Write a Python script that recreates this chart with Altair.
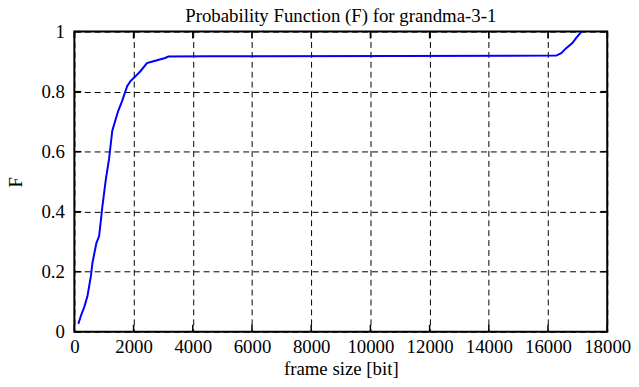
import altair as alt
import pandas as pd

frame_size = [134, 224, 334, 445, 559, 612, 746, 836, 946, 1060, 1171, 1281, 1482, 1615,
              1783, 1896, 2063, 2231, 2452, 2732, 3067, 3177, 4548, 11000, 16277,
              16445, 16612, 16823, 16946, 17134]
F = [0.026, 0.054, 0.082, 0.12, 0.186, 0.23, 0.296, 0.318, 0.417, 0.505, 0.575, 0.67, 0.736, 0.769,
     0.818, 0.835, 0.851, 0.868, 0.895, 0.903, 0.912, 0.917, 0.918, 0.919, 0.92,
     0.928, 0.945, 0.962, 0.978, 1.0]

x_ticks = [0, 2000, 4000, 6000, 8000, 10000, 12000, 14000, 16000, 18000]
y_ticks = [0, 0.2, 0.4, 0.6, 0.8, 1.0]

W, H = 538, 303
FONT = "Liberation Serif"
FS = 19

df = pd.DataFrame({"frame_size": frame_size, "F": F})
xt = pd.DataFrame({"xt": x_ticks})
yt = pd.DataFrame({"yt": y_ticks})

xscale = alt.Scale(domain=[0, 18000], nice=False)
yscale = alt.Scale(domain=[0, 1], nice=False)

common = dict(grid=True, gridDash=[6, 4], gridColor="black", gridOpacity=1, gridWidth=1,
              tickSize=0, domain=False, labelOverlap=False,
              labelFont=FONT, labelFontSize=FS, labelColor="black",
              titleFont=FONT, titleFontSize=FS, titleFontWeight="normal", titleColor="black")

line = alt.Chart(df).mark_line(color="#0000ff", strokeWidth=2, clip=True).encode(
    x=alt.X("frame_size:Q", scale=xscale, title="frame size [bit]",
            axis=alt.Axis(values=x_ticks, labelPadding=6, titlePadding=3, format="d",
                          labelFlush=False, **common)),
    y=alt.Y("F:Q", scale=yscale, title="F",
            axis=alt.Axis(values=y_ticks, labelPadding=10, titlePadding=16, format="~g",
                          titleAngle=-90, **common)),
)

xtick_b = alt.Chart(xt).mark_rule(color="black", strokeWidth=1.5).encode(
    x=alt.X("xt:Q", scale=xscale), y=alt.value(H), y2=alt.value(H - 7))
xtick_t = alt.Chart(xt).mark_rule(color="black", strokeWidth=1.5).encode(
    x=alt.X("xt:Q", scale=xscale), y=alt.value(0), y2=alt.value(7))
ytick_l = alt.Chart(yt).mark_rule(color="black", strokeWidth=1.5).encode(
    y=alt.Y("yt:Q", scale=yscale), x=alt.value(0), x2=alt.value(7))
ytick_r = alt.Chart(yt).mark_rule(color="black", strokeWidth=1.5).encode(
    y=alt.Y("yt:Q", scale=yscale), x=alt.value(W), x2=alt.value(W - 7))

chart = alt.layer(line, xtick_b, xtick_t, ytick_l, ytick_r).properties(
    width=W, height=H,
    title=alt.TitleParams("Probability Function (F) for grandma-3-1", font=FONT,
                          fontSize=FS, fontWeight="normal", color="black", offset=-3,
                          frame="group"),
    autosize=alt.AutoSizeParams(type="none"),
    padding={"left": 67, "top": 22, "right": 24, "bottom": 56},
).configure(background="white").configure_view(stroke="black", strokeWidth=2)

chart.save("out.html", embed_options={"renderer": "svg", "actions": False})
